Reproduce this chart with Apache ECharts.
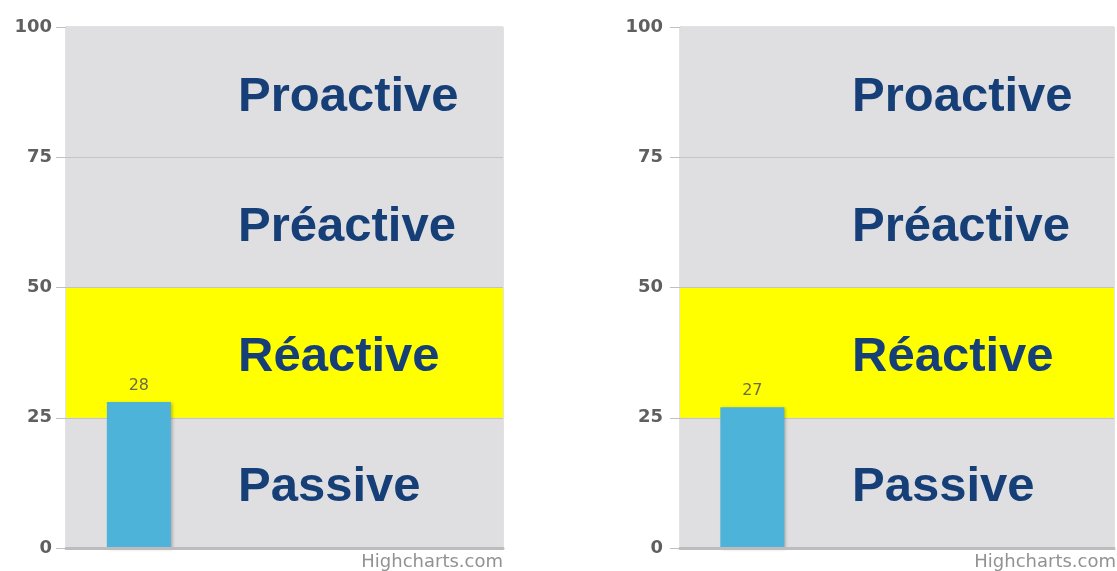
<!DOCTYPE html>
<html>
<head>
<meta charset="utf-8">
<script src="https://cdn.jsdelivr.net/npm/echarts@6/dist/echarts.min.js"></script>
<style>
  html, body { margin: 0; padding: 0; background: #fff; }
  #chart { width: 1117px; height: 571px; }
</style>
</head>
<body>
<div id="chart"></div>
<script>
// data
const categories = ["", "", ""];
const leftValues = [28, "-", "-"];
const rightValues = [27, "-", "-"];
const yTicks = [0, 25, 50, 75, 100];
const bandNames = ["Passive", "Réactive", "Préactive", "Proactive"];
const bandLimits = [[0, 25], [25, 50], [50, 75], [75, 100]];
const highlightBand = "Réactive";

let myChart = echarts.init(document.getElementById("chart"));

const grey = "#dfdfe2";
const yellow = "#ffff00";

function bandSeries(idx) {
  return {
    type: "line",
    xAxisIndex: idx,
    yAxisIndex: idx,
    data: [],
    z: 1,
    silent: true,
    markArea: {
      silent: true,
      z: 1,
      data: bandNames.map((name, i) => [
        {
          name: name,
          yAxis: bandLimits[i][0],
          itemStyle: { color: name === highlightBand ? yellow : grey },
        },
        { yAxis: bandLimits[i][1] },
      ]),
      label: {
        show: true,
        position: [172, "50%"],
        offset: [0, 5],
        align: "left",
        verticalAlign: "middle",
        color: "#163f78",
        fontFamily: "Liberation Sans",
        fontWeight: "bold",
        fontSize: 49,
      },
    },
    markLine: {
      silent: true,
      z: 1,
      symbol: "none",
      label: { show: false },
      lineStyle: { color: "#c4c4c4", type: "solid", width: 1 },
      data: yTicks.slice(1, 4).map((v) => ({ yAxis: v })),
    },
  };
}

function barSeries(idx, values) {
  return {
    type: "bar",
    xAxisIndex: idx,
    yAxisIndex: idx,
    data: values,
    barWidth: 64,
    z: 10,
    itemStyle: {
      color: "#4eb3d9",
      shadowColor: "rgba(0,0,0,0.25)",
      shadowBlur: 3,
      shadowOffsetX: 2,
      shadowOffsetY: 1,
    },
    label: {
      show: true,
      position: "top",
      distance: 8,
      color: "#6b6a4e",
      fontFamily: "DejaVu Sans",
      fontSize: 16,
    },
  };
}

function yAxis(idx, margin) {
  return {
    gridIndex: idx,
    type: "value",
    min: yTicks[0],
    max: yTicks[yTicks.length - 1],
    interval: 25,
    axisLine: { show: true, lineStyle: { color: "#c0c0c0", width: 1 } },
    axisTick: { show: true, length: 10, lineStyle: { color: "#c0c0c0" } },
    splitLine: { show: false },
    axisLabel: {
      margin: margin,
      padding: [5, 0, 0, 0],
      color: "#5f5f5f",
      fontFamily: "DejaVu Sans",
      fontWeight: "bold",
      fontSize: 18,
    },
  };
}

function xAxis(idx) {
  return {
    gridIndex: idx,
    type: "category",
    data: categories,
    z: 11,
    axisLine: { show: true, lineStyle: { color: "#bcbcbf", width: 3 } },
    axisTick: { show: false },
    axisLabel: { show: false },
  };
}

var option;
option = {
  animation: false,
  grid: [
    { left: 66, top: 27, width: 437, height: 521, show: true, backgroundColor: grey, borderColor: "#c6c6c8", borderWidth: 1 },
    { left: 680, top: 27, width: 434, height: 521, show: true, backgroundColor: grey, borderColor: "#c6c6c8", borderWidth: 1 },
  ],
  xAxis: [xAxis(0), xAxis(1)],
  yAxis: [yAxis(0, 14), yAxis(1, 17)],
  series: [
    bandSeries(0),
    bandSeries(1),
    barSeries(0, leftValues),
    barSeries(1, rightValues),
  ],
  graphic: [
    {
      type: "text",
      right: 1117 - 503,
      top: 553,
      style: { text: "Highcharts.com", fill: "#929292", font: "18px 'DejaVu Sans'" },
    },
    {
      type: "text",
      right: 1,
      top: 553,
      style: { text: "Highcharts.com", fill: "#929292", font: "18px 'DejaVu Sans'" },
    },
  ],
};
option && myChart.setOption(option);
</script>
</body>
</html>
